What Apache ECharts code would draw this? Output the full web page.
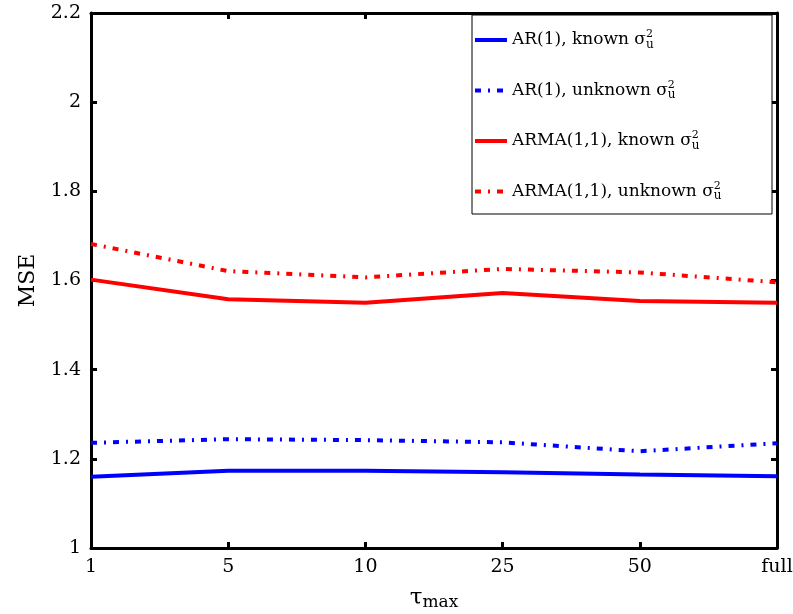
<!DOCTYPE html>
<html><head><meta charset="utf-8">
<script src="https://cdn.jsdelivr.net/npm/echarts@6/dist/echarts.min.js"></script>
<style>html,body{margin:0;padding:0;background:#fff}#c{width:793px;height:614px}</style>
</head><body><div id="c"></div>
<script>
var categories = ['1', '5', '10', '25', '50', 'full'];
var arKnown = [1.160, 1.173, 1.173, 1.170, 1.165, 1.161];
var arUnknown = [1.236, 1.244, 1.242, 1.237, 1.217, 1.235];
var armaKnown = [1.602, 1.558, 1.550, 1.572, 1.554, 1.550];
var armaUnknown = [1.682, 1.621, 1.607, 1.626, 1.618, 1.596];
var seriesNames = ['AR(1), known', 'AR(1), unknown', 'ARMA(1,1), known', 'ARMA(1,1), unknown'];
var yTicks = {min: 1, max: 2.2, interval: 0.2};

var FONT = 'DejaVu Serif';
var dashDot = [6, 7, 2, 7];
function mk(name, data, color, dashed) {
  return {
    name: name, type: 'line', data: data, symbol: 'none', smooth: false,
    lineStyle: {color: color, width: 4, type: dashed ? dashDot : 'solid', cap: 'butt'},
    itemStyle: {color: color}
  };
}
var chart = echarts.init(document.getElementById('c'), null, {renderer: 'canvas'});
var axisLine = {show: true, lineStyle: {color: '#000', width: 3}};
var tick = {show: true, inside: true, length: 6, lineStyle: {color: '#000', width: 3}};
chart.setOption({
  animation: false,
  backgroundColor: '#fff',
  grid: {left: 91, right: 16, top: 13, bottom: 66, containLabel: false, outerBoundsMode: 'none'},
  graphic: [{type: 'rect', shape: {x: 472, y: 15, width: 300, height: 199},
    style: {fill: '#fff', stroke: '#000', lineWidth: 1}, z: 5}],
  legend: {
    left: 473, top: 29, orient: 'vertical', itemWidth: 32, itemHeight: 14, itemGap: 29,
    padding: 0, z: 10,
    itemStyle: {color: 'transparent', borderWidth: 0, opacity: 0},
    lineStyle: {width: 4},
    textStyle: {fontFamily: FONT, fontSize: 17, color: '#000',
      rich: {
        t: {fontFamily: FONT, fontSize: 17, color: '#000'},
        s: {fontFamily: FONT, fontSize: 11, color: '#000', width: 0, padding: [0, 0, 11, 0]},
        u: {fontFamily: FONT, fontSize: 12, color: '#000', padding: [9, 0, 0, 0]}
      }},
    formatter: function (n) { return '{t|' + n + ' σ}{s|2}{u|u}'; },
    data: seriesNames
  },
  xAxis: [{
    type: 'category', data: categories, boundaryGap: false, position: 'bottom',
    axisLine: axisLine, axisTick: Object.assign({}, tick, {alignWithLabel: true}),
    axisLabel: {fontFamily: FONT, fontSize: 19, color: '#000', margin: 10},
    splitLine: {show: false},
    name: '{t|τ}{m|max}', nameLocation: 'middle', nameGap: 38,
    nameTextStyle: {rich: {
      t: {fontFamily: FONT, fontSize: 23, color: '#000'},
      m: {fontFamily: FONT, fontSize: 17, color: '#000', padding: [8, 0, 0, 0]}}}
  }, {
    type: 'category', data: categories, boundaryGap: false, position: 'top',
    axisLine: axisLine, axisTick: tick, axisLabel: {show: false}, splitLine: {show: false}
  }],
  yAxis: [{
    type: 'value', min: yTicks.min, max: yTicks.max, interval: yTicks.interval, position: 'left',
    axisLine: axisLine, axisTick: tick, splitLine: {show: false},
    axisLabel: {fontFamily: FONT, fontSize: 19, color: '#000', margin: 10},
    name: 'MSE', nameLocation: 'middle', nameGap: 52, nameRotate: 90,
    nameTextStyle: {fontFamily: FONT, fontSize: 22, color: '#000'}
  }, {
    type: 'value', min: yTicks.min, max: yTicks.max, interval: yTicks.interval, position: 'right',
    axisLine: axisLine, axisTick: tick, splitLine: {show: false}, axisLabel: {show: false}
  }],
  series: [
    mk(seriesNames[0], arKnown, '#0000ff', false),
    mk(seriesNames[1], arUnknown, '#0000ff', true),
    mk(seriesNames[2], armaKnown, '#ff0000', false),
    mk(seriesNames[3], armaUnknown, '#ff0000', true)
  ]
});
</script></body></html>
